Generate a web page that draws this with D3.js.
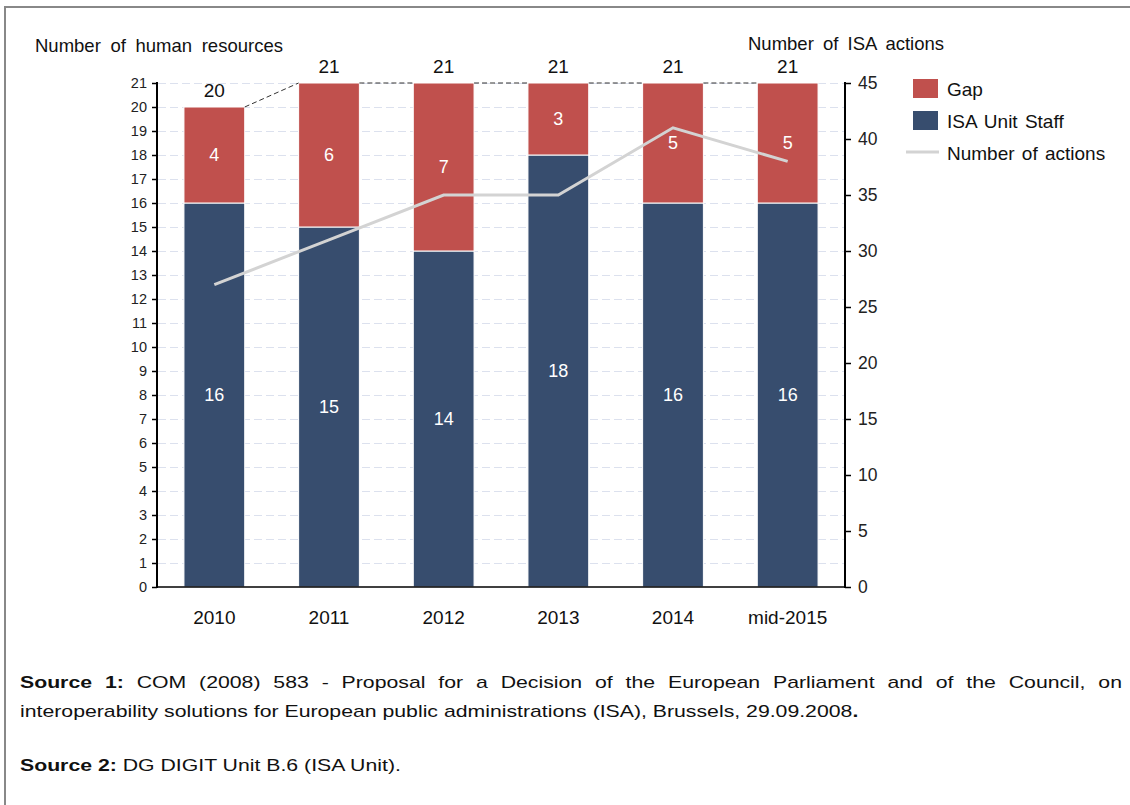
<!DOCTYPE html>
<html>
<head>
<meta charset="utf-8">
<script src="https://cdn.jsdelivr.net/npm/d3@7"></script>
<style>
  html, body { margin: 0; padding: 0; background: #fff; }
  svg { display: block; font-family: "Liberation Sans", Arial, sans-serif; }
</style>
</head>
<body>
<svg id="chart" width="1130" height="805"></svg>
<script>
// ---- data ----
const categories = ["2010", "2011", "2012", "2013", "2014", "mid-2015"];
const staffValues = [16, 15, 14, 18, 16, 16];
const gapValues = [4, 6, 7, 3, 5, 5];
const actionValues = [27, 31, 35, 35, 41, 38];
const leftTicks = [0,1,2,3,4,5,6,7,8,9,10,11,12,13,14,15,16,17,18,19,20,21];
const rightTicks = [0, 5, 10, 15, 20, 25, 30, 35, 40, 45];
const seriesNames = ["Gap", "ISA Unit Staff", "Number of actions"];
const leftTitle = "Number of human resources";
const rightTitle = "Number of ISA actions";
const source1Bold = "Source 1:";
const source1Line1 = "COM (2008) 583 - Proposal for a Decision of the European Parliament and of the Council, on";
const source1Line2 = "interoperability solutions for European public administrations (ISA), Brussels, 29.09.2008";
const source2Bold = "Source 2:";
const source2Text = "DG DIGIT Unit B.6 (ISA Unit).";

// ---- styles ----
const C_GAP = "#c0504d";
const C_STAFF = "#374d6e";
const C_LINE = "#d3d3d3";

const svg = d3.select("#chart");

// frame
svg.append("line").attr("x1", 4).attr("x2", 1130).attr("y1", 7).attr("y2", 7)
  .attr("stroke", "#888").attr("stroke-width", 2);
svg.append("line").attr("x1", 5).attr("x2", 5).attr("y1", 6).attr("y2", 805)
  .attr("stroke", "#888").attr("stroke-width", 2);

const x = d3.scaleBand().domain(categories).range([157, 845])
  .paddingInner(0.47).paddingOuter(0.235);
const yL = d3.scaleLinear().domain([0, 21]).range([587, 83]);
const yR = d3.scaleLinear().domain([0, 45]).range([587, 83]);

const data = categories.map((c, i) => ({
  cat: c, staff: staffValues[i], gap: gapValues[i], total: staffValues[i] + gapValues[i], actions: actionValues[i]
}));

// gridlines
svg.append("g").selectAll("line").data(leftTicks.filter(t => t > 0)).join("line")
  .attr("x1", 158).attr("x2", 845)
  .attr("y1", d => yL(d) + 0.5).attr("y2", d => yL(d) + 0.5)
  .attr("stroke", "#dce1ee").attr("stroke-width", 1).attr("stroke-dasharray", "8,4");

// bars
const bars = svg.append("g");
bars.selectAll("rect.staff").data(data).join("rect").attr("class", "staff")
  .attr("x", d => x(d.cat)).attr("width", x.bandwidth())
  .attr("y", d => yL(d.staff)).attr("height", d => yL(0) - yL(d.staff))
  .attr("fill", C_STAFF).attr("stroke", "#fff").attr("stroke-width", 1);
bars.selectAll("rect.gap").data(data).join("rect").attr("class", "gap")
  .attr("x", d => x(d.cat)).attr("width", x.bandwidth())
  .attr("y", d => yL(d.total)).attr("height", d => yL(d.staff) - yL(d.total))
  .attr("fill", C_GAP).attr("stroke", "#fff").attr("stroke-width", 1);

// connector (series) lines between bar tops
const conn = d3.pairs(data);
svg.append("g").selectAll("line").data(conn).join("line")
  .attr("x1", d => x(d[0].cat) + x.bandwidth()).attr("y1", d => yL(d[0].total))
  .attr("x2", d => x(d[1].cat)).attr("y2", d => yL(d[1].total))
  .attr("stroke", "#333").attr("stroke-width", 1).attr("stroke-dasharray", "5,3");

// axes
const axL = svg.append("g").attr("transform", "translate(157,0)")
  .call(d3.axisLeft(yL).tickValues(leftTicks).tickSize(5).tickSizeOuter(0).tickPadding(5));
axL.select(".domain").remove();
axL.selectAll(".tick line").attr("stroke", "#000").attr("stroke-width", 1.5);
axL.selectAll("text").attr("font-size", 14.5).attr("fill", "#222").attr("font-family", "Liberation Sans, Arial, sans-serif");

const axR = svg.append("g").attr("transform", "translate(845,0)")
  .call(d3.axisRight(yR).tickValues(rightTicks).tickSize(6).tickSizeOuter(0).tickPadding(7));
axR.select(".domain").remove();
axR.selectAll(".tick line").attr("stroke", "#000").attr("stroke-width", 1.5);
axR.selectAll("text").attr("font-size", 17.5).attr("fill", "#222").attr("font-family", "Liberation Sans, Arial, sans-serif");

svg.append("line").attr("x1", 157).attr("x2", 157).attr("y1", 82).attr("y2", 588)
  .attr("stroke", "#000").attr("stroke-width", 2);
svg.append("line").attr("x1", 845).attr("x2", 845).attr("y1", 82).attr("y2", 588)
  .attr("stroke", "#000").attr("stroke-width", 2);
svg.append("line").attr("x1", 156).attr("x2", 846).attr("y1", 587).attr("y2", 587)
  .attr("stroke", "#000").attr("stroke-width", 1.5);

const axB = svg.append("g").attr("transform", "translate(0,587)")
  .call(d3.axisBottom(x).tickSize(0).tickPadding(24));
axB.select(".domain").remove();
axB.selectAll("text").attr("font-size", 19).attr("fill", "#111").attr("font-family", "Liberation Sans, Arial, sans-serif");

// line series
svg.append("path").datum(data)
  .attr("d", d3.line().x(d => x(d.cat) + x.bandwidth() / 2).y(d => yR(d.actions)))
  .attr("fill", "none").attr("stroke", C_LINE).attr("stroke-width", 3);

// labels in bars
const lbl = svg.append("g").attr("font-size", 18).attr("fill", "#fff").attr("text-anchor", "middle");
lbl.selectAll("text.s").data(data).join("text").attr("class", "s")
  .attr("x", d => x(d.cat) + x.bandwidth() / 2)
  .attr("y", d => yL(d.staff / 2)).attr("dy", "0.35em").text(d => d.staff);
lbl.selectAll("text.g").data(data).join("text").attr("class", "g")
  .attr("x", d => x(d.cat) + x.bandwidth() / 2)
  .attr("y", d => yL(d.staff + d.gap / 2)).attr("dy", "0.35em").text(d => d.gap);

// totals
svg.append("g").attr("font-size", 19).attr("fill", "#111").attr("text-anchor", "middle")
  .selectAll("text").data(data).join("text")
  .attr("x", d => x(d.cat) + x.bandwidth() / 2)
  .attr("y", d => yL(d.total) - 10).text(d => d.total);

// axis titles
svg.append("text").attr("x", 35).attr("y", 52).attr("font-size", 18.5).attr("fill", "#111")
  .attr("word-spacing", 4.5).text(leftTitle);
svg.append("text").attr("x", 748).attr("y", 50).attr("font-size", 18.5).attr("fill", "#111")
  .attr("word-spacing", 4).text(rightTitle);

// legend
const lg = svg.append("g");
lg.append("rect").attr("x", 913).attr("y", 79).attr("width", 25).attr("height", 19).attr("fill", C_GAP);
lg.append("rect").attr("x", 913).attr("y", 111).attr("width", 25).attr("height", 19).attr("fill", C_STAFF);
lg.append("line").attr("x1", 906).attr("x2", 939).attr("y1", 152).attr("y2", 152)
  .attr("stroke", C_LINE).attr("stroke-width", 3);
lg.selectAll("text").data(seriesNames).join("text")
  .attr("x", 947).attr("y", (d, i) => [89, 121, 153][i]).attr("dy", "0.35em")
  .attr("font-size", 19).attr("fill", "#111").attr("word-spacing", 2).text(d => d);

// sources (text is horizontally widened in the reference)
const SX = 1.25;
const src = svg.append("g").attr("transform", `translate(20,0) scale(${SX},1)`)
  .attr("font-size", 17).attr("fill", "#111");
// justified first line
const words1 = [{t: "Source", b: true}, {t: "1:", b: true}].concat(source1Line1.split(" ").map(t => ({t, b: false})));
const tmp = words1.map(w => src.append("text").attr("font-weight", w.b ? "bold" : "normal").text(w.t));
const widths = tmp.map(n => n.node().getComputedTextLength());
const totalW = d3.sum(widths);
const avail = (1122 - 20) / SX;
const gapW = (avail - totalW) / (words1.length - 1);
let cx = 0;
tmp.forEach((n, i) => { n.attr("x", cx).attr("y", 688); cx += widths[i] + gapW; });

const l2 = src.append("text").attr("x", 0).attr("y", 717);
l2.append("tspan").text(source1Line2);
l2.append("tspan").attr("font-weight", "bold").text(".");

const l3 = src.append("text").attr("x", 0).attr("y", 771);
l3.append("tspan").attr("font-weight", "bold").text(source2Bold);
l3.append("tspan").text(" " + source2Text);
</script>
</body>
</html>
